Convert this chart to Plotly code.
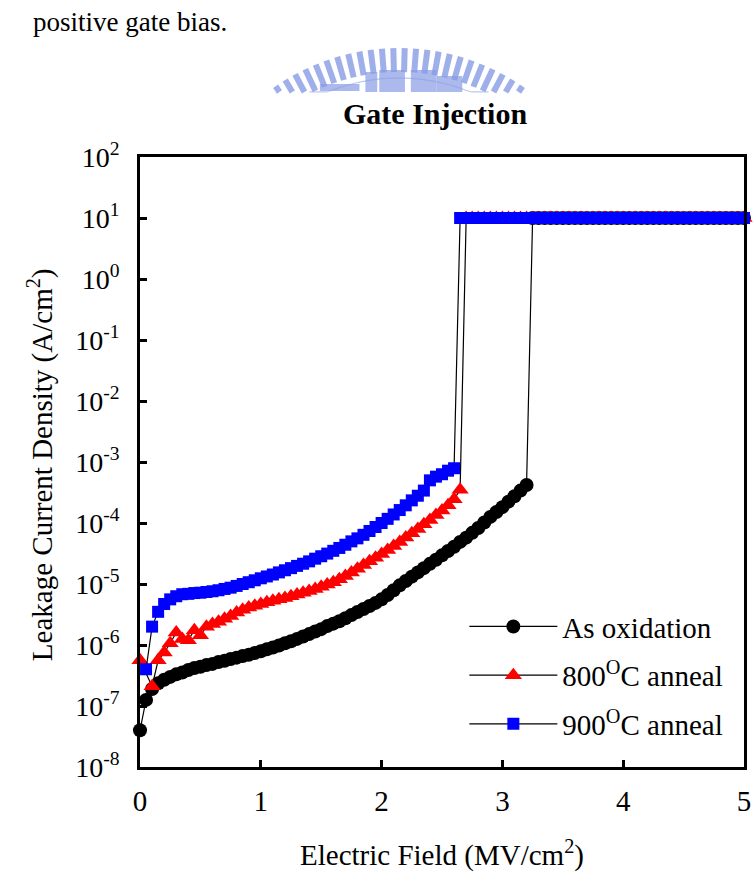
import math
import plotly.graph_objects as go

# ---------------- data ----------------
as_ox_E = [0.00, 0.05, 0.10, 0.15, 0.20, 0.25, 0.30, 0.35, 0.40, 0.45, 0.50, 0.55, 0.60, 0.65, 0.70, 0.75,
           0.80, 0.85, 0.90, 0.95, 1.00, 1.05, 1.10, 1.15, 1.20, 1.25, 1.30, 1.35, 1.40, 1.45, 1.50, 1.55,
           1.60, 1.65, 1.70, 1.75, 1.80, 1.85, 1.90, 1.95, 2.00, 2.05, 2.10, 2.15, 2.20, 2.25, 2.30, 2.35,
           2.40, 2.45, 2.50, 2.55, 2.60, 2.65, 2.70, 2.75, 2.80, 2.85, 2.90, 2.95, 3.00, 3.05, 3.10, 3.15,
           3.20, 3.25, 3.30, 3.35, 3.40, 3.45, 3.50, 3.55, 3.60, 3.65, 3.70, 3.75, 3.80, 3.85, 3.90, 3.95,
           4.00, 4.05, 4.10, 4.15, 4.20, 4.25, 4.30, 4.35, 4.40, 4.45, 4.50, 4.55, 4.60, 4.65, 4.70, 4.75,
           4.80, 4.85, 4.90, 4.95, 5.00]
as_ox_J = [4.0e-8, 1.26e-7, 1.9e-7, 2.35e-7, 2.7e-7, 3.0e-7, 3.3e-7, 3.55e-7, 3.9e-7, 4.2e-7, 4.4e-7,
           4.7e-7, 4.9e-7, 5.25e-7, 5.5e-7, 5.9e-7, 6.2e-7, 6.6e-7, 6.9e-7, 7.4e-7, 7.9e-7, 8.5e-7,
           9.1e-7, 9.8e-7, 1.07e-6, 1.15e-6, 1.26e-6, 1.38e-6, 1.51e-6, 1.66e-6, 1.82e-6, 2.04e-6,
           2.24e-6, 2.45e-6, 2.75e-6, 3.09e-6, 3.47e-6, 3.89e-6, 4.37e-6, 4.9e-6, 5.6e-6, 6.6e-6,
           7.9e-6, 9.5e-6, 1.12e-5, 1.32e-5, 1.55e-5, 1.82e-5, 2.14e-5, 2.5e-5, 2.95e-5, 3.47e-5,
           4.07e-5, 4.9e-5, 5.75e-5, 6.9e-5, 8.3e-5, 1.02e-4, 1.26e-4, 1.51e-4, 1.82e-4, 2.24e-4,
           2.75e-4, 3.4e-4, 4.2e-4,
           10.0, 10.0, 10.0, 10.0, 10.0, 10.0, 10.0, 10.0, 10.0, 10.0, 10.0, 10.0, 10.0, 10.0, 10.0, 10.0,
           10.0, 10.0, 10.0, 10.0, 10.0, 10.0, 10.0, 10.0, 10.0, 10.0, 10.0, 10.0, 10.0, 10.0, 10.0, 10.0,
           10.0, 10.0, 10.0, 10.0]

a800_E = [0.00, 0.10, 0.15, 0.20, 0.25, 0.30, 0.35, 0.40, 0.45, 0.50, 0.55, 0.60, 0.65, 0.70, 0.75,
          0.80, 0.85, 0.90, 0.95, 1.00, 1.05, 1.10, 1.15, 1.20, 1.25, 1.30, 1.35, 1.40, 1.45, 1.50, 1.55,
          1.60, 1.65, 1.70, 1.75, 1.80, 1.85, 1.90, 1.95, 2.00, 2.05, 2.10, 2.15, 2.20, 2.25, 2.30, 2.35,
          2.40, 2.45, 2.50, 2.55, 2.60, 2.65, 2.70, 2.75, 2.80, 2.85, 2.90, 2.95, 3.00, 3.05, 3.10, 3.15,
          3.20, 3.25, 3.30, 3.35, 3.40, 3.45, 3.50, 3.55, 3.60, 3.65, 3.70, 3.75, 3.80, 3.85, 3.90, 3.95,
          4.00, 4.05, 4.10, 4.15, 4.20, 4.25, 4.30, 4.35, 4.40, 4.45, 4.50, 4.55, 4.60, 4.65, 4.70, 4.75,
          4.80, 4.85, 4.90, 4.95, 5.00]
a800_J = [5.6e-7, 2.1e-7, 5.6e-7, 7.5e-7, 1.07e-6, 1.6e-6, 1.25e-6, 1.2e-6, 1.75e-6, 1.45e-6, 2.0e-6,
          2.2e-6, 2.4e-6, 2.7e-6, 3.0e-6, 3.4e-6, 3.8e-6, 4.1e-6, 4.4e-6, 4.7e-6, 5.0e-6, 5.3e-6,
          5.6e-6, 5.9e-6, 6.3e-6, 6.7e-6, 7.2e-6, 7.7e-6, 8.3e-6, 9.0e-6, 9.8e-6, 1.07e-5, 1.2e-5,
          1.35e-5, 1.55e-5, 1.78e-5, 2.05e-5, 2.35e-5, 2.7e-5, 3.1e-5, 3.6e-5, 4.2e-5, 4.9e-5, 5.8e-5,
          6.8e-5, 8.0e-5, 9.5e-5, 1.12e-4, 1.35e-4, 1.6e-4, 1.95e-4, 2.45e-4, 3.5e-4,
          10.0, 10.0, 10.0, 10.0, 10.0, 10.0, 10.0, 10.0, 10.0, 10.0, 10.0, 10.0, 10.0, 10.0, 10.0, 10.0,
          10.0, 10.0, 10.0, 10.0, 10.0, 10.0, 10.0, 10.0, 10.0, 10.0, 10.0, 10.0, 10.0, 10.0, 10.0, 10.0,
          10.0, 10.0, 10.0, 10.0, 10.0, 10.0, 10.0, 10.0, 10.0, 10.0, 10.0, 10.0, 10.0, 10.0, 10.0]

a900_E = [0.05, 0.10, 0.15, 0.20, 0.25, 0.30, 0.35, 0.40, 0.45, 0.50, 0.55, 0.60, 0.65, 0.70, 0.75,
          0.80, 0.85, 0.90, 0.95, 1.00, 1.05, 1.10, 1.15, 1.20, 1.25, 1.30, 1.35, 1.40, 1.45, 1.50, 1.55,
          1.60, 1.65, 1.70, 1.75, 1.80, 1.85, 1.90, 1.95, 2.00, 2.05, 2.10, 2.15, 2.20, 2.25, 2.30, 2.35,
          2.40, 2.45, 2.50, 2.55, 2.60, 2.65, 2.70, 2.75, 2.80, 2.85, 2.90, 2.95, 3.00, 3.05, 3.10, 3.15,
          3.20, 3.25, 3.30, 3.35, 3.40, 3.45, 3.50, 3.55, 3.60, 3.65, 3.70, 3.75, 3.80, 3.85, 3.90, 3.95,
          4.00, 4.05, 4.10, 4.15, 4.20, 4.25, 4.30, 4.35, 4.40, 4.45, 4.50, 4.55, 4.60, 4.65, 4.70, 4.75,
          4.80, 4.85, 4.90, 4.95, 5.00]
a900_J = [4.0e-7, 2.0e-6, 3.5e-6, 4.7e-6, 5.6e-6, 6.3e-6, 6.8e-6, 6.9e-6, 7.1e-6, 7.2e-6, 7.4e-6,
          7.6e-6, 7.9e-6, 8.3e-6, 8.7e-6, 9.3e-6, 1.0e-5, 1.07e-5, 1.15e-5, 1.24e-5, 1.33e-5, 1.43e-5,
          1.55e-5, 1.68e-5, 1.82e-5, 1.98e-5, 2.15e-5, 2.35e-5, 2.6e-5, 2.85e-5, 3.15e-5, 3.5e-5, 3.9e-5,
          4.4e-5, 5.0e-5, 5.6e-5, 6.4e-5, 7.4e-5, 8.6e-5, 1.0e-4, 1.17e-4, 1.38e-4, 1.63e-4, 1.95e-4,
          2.35e-4, 2.8e-4, 3.4e-4, 5.0e-4, 5.75e-4, 6.3e-4, 7.2e-4, 7.9e-4,
          10.0, 10.0, 10.0, 10.0, 10.0, 10.0, 10.0, 10.0, 10.0, 10.0, 10.0, 10.0, 10.0, 10.0, 10.0, 10.0,
          10.0, 10.0, 10.0, 10.0, 10.0, 10.0, 10.0, 10.0, 10.0, 10.0, 10.0, 10.0, 10.0, 10.0, 10.0, 10.0,
          10.0, 10.0, 10.0, 10.0, 10.0, 10.0, 10.0, 10.0, 10.0, 10.0, 10.0, 10.0, 10.0, 10.0, 10.0, 10.0]

series_names = ["As oxidation", "800<sup>O</sup>C anneal", "900<sup>O</sup>C anneal"]
x_ticks = [0, 1, 2, 3, 4, 5]
y_tick_vals = [1e-8, 1e-7, 1e-6, 1e-5, 1e-4, 1e-3, 1e-2, 1e-1, 1e0, 1e1, 1e2]
y_tick_text = ["10<sup>-8</sup>", "10<sup>-7</sup>", "10<sup>-6</sup>", "10<sup>-5</sup>", "10<sup>-4</sup>",
               "10<sup>-3</sup>", "10<sup>-2</sup>", "10<sup>-1</sup>", "10<sup>0</sup>", "10<sup>1</sup>",
               "10<sup>2</sup>"]

# ---------------- figure ----------------
W, H = 756, 877
L, R, T, B = 140, 5, 157, 110
FONT = "Liberation Serif"

fig = go.Figure()
styles = [
    dict(symbol="circle", color="black", size=14),
    dict(symbol="triangle-up", color="red", size=15),
    dict(symbol="square", color="blue", size=12),
]
for i, (xs, ys) in enumerate([(as_ox_E, as_ox_J), (a800_E, a800_J), (a900_E, a900_J)]):
    fig.add_trace(go.Scatter(
        x=xs, y=ys, mode="lines+markers", name=series_names[i],
        legendgroup=f"g{i}",
        line=dict(color="black", width=1.2),
        marker=dict(symbol=styles[i]["symbol"], color=styles[i]["color"], size=styles[i]["size"],
                    line=dict(width=0)),
        cliponaxis=False,
    ))

axis_common = dict(showline=True, linecolor="black", linewidth=2.5, mirror=True,
                   ticks="inside", ticklen=7, tickwidth=2.5, tickcolor="black",
                   showgrid=False, zeroline=False)

fig.update_layout(
    width=W, height=H,
    margin=dict(l=L, r=R, t=T, b=B, pad=0),
    paper_bgcolor="white", plot_bgcolor="white",
    font=dict(family=FONT, color="black"),
    xaxis=dict(range=[0, 5], tickvals=x_ticks, tickfont=dict(size=29, family=FONT, color="black"),
               ticklabelstandoff=6, **axis_common),
    yaxis=dict(type="log", range=[-8, 2], tickvals=y_tick_vals, ticktext=y_tick_text,
               tickfont=dict(size=28, family=FONT, color="black"), ticklabelstandoff=12, **axis_common),
    legend=dict(x=0.537, y=0.272, xanchor="left", yanchor="top",
                font=dict(size=29, family=FONT, color="black"), bgcolor="rgba(0,0,0,0)",
                itemwidth=88, traceorder="grouped", tracegroupgap=8),
    showlegend=True,
)

def px_x(px):
    return (px - L) / (W - L - R)

def px_y(py):
    return (H - B - py) / (H - T - B)

# watermark (decorative, light blue, only its top part visible above the title)
wm_color = "rgba(135,155,228,0.8)"
cx, cy = 402, 271
r_in, r_out, cut = 199, 223, 92
for k in range(26):
    ang = math.radians(53 + (74 / 25) * k)
    yt = cy - r_out * math.sin(ang)
    yb = cy - r_in * math.sin(ang)
    if yt > cut - 3:
        continue
    if yb > cut:
        yb = cut
        xb = cx + (cy - cut) / math.tan(ang)
    else:
        xb = cx + r_in * math.cos(ang)
    fig.add_shape(type="line", xref="paper", yref="paper",
                  x0=px_x(xb), y0=px_y(yb),
                  x1=px_x(cx + r_out * math.cos(ang)), y1=px_y(yt),
                  line=dict(color=wm_color, width=6), layer="below")
arc_pts = []
for k in range(31):
    ang = math.radians(62 + 56 * k / 30)
    arc_pts.append((px_x(cx + 193 * math.cos(ang)), px_y(min(cy - 193 * math.sin(ang), cut))))
path = "M " + " L ".join(f"{a:.4f},{b:.4f}" for a, b in arc_pts)
fig.add_shape(type="path", xref="paper", yref="paper", path=path,
              line=dict(color="rgba(160,178,232,0.7)", width=1.2), layer="below")
for (x0, y0, x1, y1) in [(322, 84, 362, 91), (368, 72, 380, 92), (382, 70, 408, 92),
                         (414, 70, 440, 92), (440, 76, 466, 92)]:
    fig.add_shape(type="rect", xref="paper", yref="paper",
                  x0=px_x(x0), y0=px_y(y1), x1=px_x(x1), y1=px_y(y0),
                  fillcolor="rgba(135,155,228,0.7)", line=dict(width=0), layer="below")

annots = [
    dict(text="positive gate bias.", x=px_x(30), y=px_y(22), xanchor="left", yanchor="middle",
         font=dict(size=27, family=FONT, color="black")),
    dict(text="<b>Gate Injection</b>", x=px_x(438), y=px_y(113), xanchor="center", yanchor="middle",
         font=dict(size=30, family=FONT, color="black")),
    dict(text="Electric Field (MV/cm<sup>2</sup>)", x=px_x(445), y=px_y(853), xanchor="center",
         yanchor="middle", font=dict(size=29, family=FONT, color="black")),
    dict(text="Leakage Current Density (A/cm<sup>2</sup>)", x=px_x(40), y=px_y(465), xanchor="center",
         yanchor="middle", textangle=-90, font=dict(size=29, family=FONT, color="black")),
]
for a in annots:
    fig.add_annotation(xref="paper", yref="paper", showarrow=False, **a)

fig.write_html("out.html")
